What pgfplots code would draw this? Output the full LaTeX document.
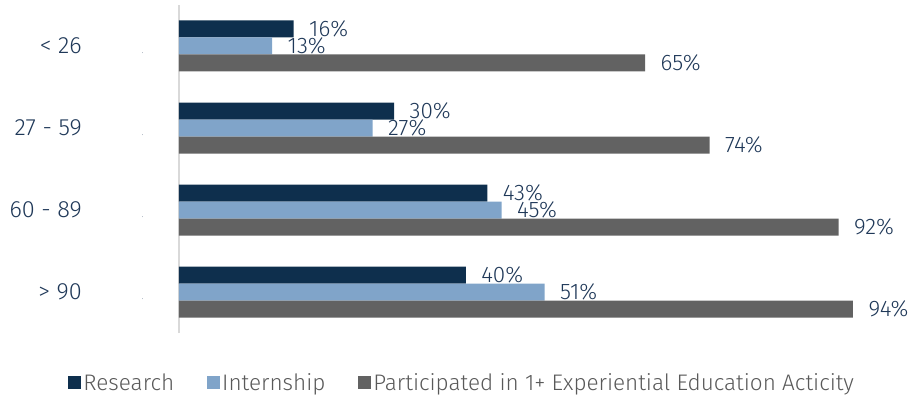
\documentclass[border=0pt]{standalone}
\usepackage{pgfplots}
\pgfplotsset{compat=1.18}
\usepackage{fontspec}
\setmainfont{Fira Sans}[UprightFont=* Light]
\definecolor{res}{RGB}{14,47,77}
\definecolor{int}{RGB}{128,164,201}
\definecolor{par}{RGB}{98,98,98}
\definecolor{lab}{RGB}{31,56,88}
\definecolor{leg}{RGB}{89,89,89}
\begin{document}
\begin{tikzpicture}[x=1bp,y=1bp]
\useasboundingbox (-179,-68) rectangle (730,333);
\begin{axis}[
  at={(0,0)}, anchor=south west,
  scale only axis, width=717bp, height=328bp,
  xmin=0, xmax=100, ymin=-0.5, ymax=3.5,
  xbar, bar width=17bp,
  axis y line*=left, axis x line*=bottom,
  x axis line style={draw=none},
  y axis line style={draw={rgb,255:red,217;green,217;blue,217}, line width=2bp, -},
  xtick=\empty,
  ytick={0,1,2,3},
  yticklabels={{> 90\hspace{60bp}{\fontsize{7bp}{7bp}\selectfont .}},
               {60 - 89\hspace{60bp}{\fontsize{7bp}{7bp}\selectfont .}},
               {27 - 59\hspace{60bp}{\fontsize{7bp}{7bp}\selectfont .}},
               {< 26\hspace{60bp}{\fontsize{7bp}{7bp}\selectfont .}}},
  ytick style={draw=none},
  yticklabel style={anchor=east, xshift=-28bp, text=lab, font=\fontsize{23.5bp}{27bp}\selectfont},
  /pgf/number format/assume math mode=true,
  point meta=x,
  nodes near coords={\pgfmathprintnumber{\pgfplotspointmeta}\%},
  nodes near coords style={anchor=west, xshift=12bp, text=lab, font=\fontsize{22.5bp}{26bp}\selectfont},
  legend style={at={(axis description cs:0.395,-0.152)}, anchor=center, draw=none, fill=none,
    legend columns=3, font=\fontsize{22.5bp}{26bp}\selectfont, text=leg,
    /tikz/every even column/.append style={column sep=31bp}},
  legend image code/.code={\fill[#1] (0bp,-6.5bp) rectangle (13bp,6.5bp);},
]
\addplot[fill=res, draw=none, bar shift=17bp] coordinates {(16,3) (30,2) (43,1) (40,0)};
\addplot[fill=int, draw=none, bar shift=0bp] coordinates {(13,3) (27,2) (45,1) (51,0)};
\addplot[fill=par, draw=none, bar shift=-17bp] coordinates {(65,3) (74,2) (92,1) (94,0)};
\legend{Research, Internship, Participated in 1+ Experiential Education Acticity}
\end{axis}
\end{tikzpicture}
\end{document}
